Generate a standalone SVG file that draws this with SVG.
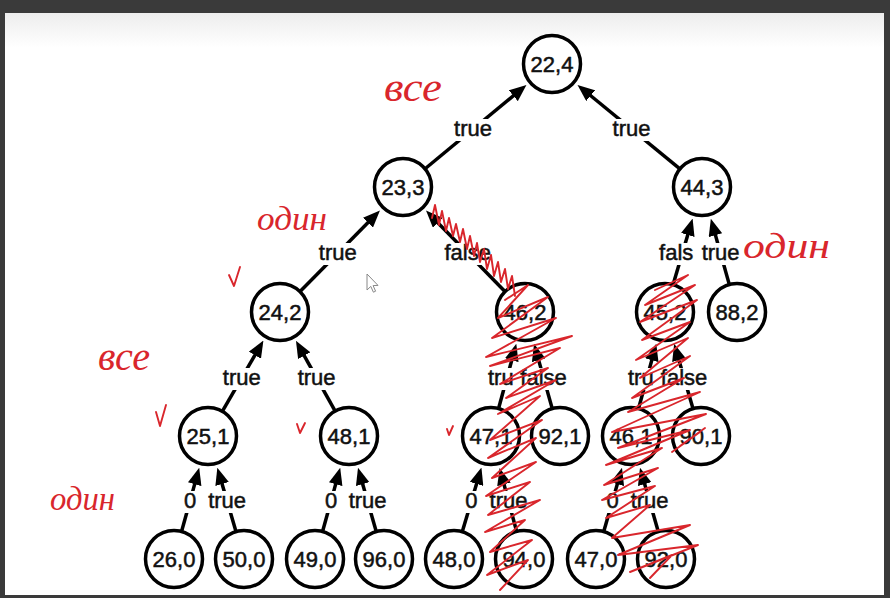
<svg xmlns="http://www.w3.org/2000/svg" width="890" height="598" viewBox="0 0 890 598">
<style>
.node circle{fill:#fff;stroke:#000;stroke-width:3.5}
.node text,.lbl text{font-family:"Liberation Sans",Arial,sans-serif;font-size:22px;fill:#111;stroke:#111;stroke-width:0.5;text-anchor:middle}
.lbl text.st{text-anchor:start}
.edge{stroke:#000;stroke-width:3.5;fill:none;marker-end:url(#ah)}
.lbl rect{fill:#fff}
.hand{font-family:"Liberation Serif","DejaVu Serif",serif;font-style:italic;fill:#d9262c}
.scr{fill:none;stroke:#d9262c;stroke-width:1.9;stroke-linejoin:round;stroke-linecap:round}
</style>
<defs>
<marker id="ah" markerUnits="userSpaceOnUse" markerWidth="17" markerHeight="14" viewBox="0 0 17 14" refX="5" refY="7" orient="auto">
<path d="M0,0 L17,7 L0,14 z" fill="#000"/>
</marker>
<linearGradient id="pg" x1="0" y1="0" x2="0" y2="1">
<stop offset="0" stop-color="#ededed"/>
<stop offset="1" stop-color="#ffffff"/>
</linearGradient>
</defs>
<rect x="0" y="0" width="890" height="598" fill="#fff"/>
<rect x="0" y="13" width="890" height="35" fill="url(#pg)"/>

<g id="connectors">
<line class="edge" x1="425.4" y1="168.5" x2="517.2" y2="92.6"/>
<line class="edge" x1="679.6" y1="168.6" x2="586.8" y2="92.5"/>
<line class="edge" x1="300.3" y1="291.3" x2="371.5" y2="219.1"/>
<line class="edge" x1="504.7" y1="291.2" x2="434.4" y2="219.2"/>
<line class="edge" x1="673.2" y1="284.2" x2="689.2" y2="230.1"/>
<line class="edge" x1="729.2" y1="284.1" x2="714.1" y2="230.4"/>
<line class="edge" x1="222.6" y1="410.9" x2="257.4" y2="350.9"/>
<line class="edge" x1="334.9" y1="410.7" x2="301.8" y2="351.3"/>
<line class="edge" x1="498.7" y1="408.0" x2="513.1" y2="355.4"/>
<line class="edge" x1="552.1" y1="408.1" x2="537.3" y2="355.4"/>
<line class="edge" x1="638.7" y1="408.0" x2="653.1" y2="355.4"/>
<line class="edge" x1="692.9" y1="408.2" x2="677.5" y2="355.2"/>
<line class="edge" x1="181.7" y1="531.0" x2="196.0" y2="479.4"/>
<line class="edge" x1="235.9" y1="531.2" x2="220.7" y2="479.2"/>
<line class="edge" x1="322.7" y1="531.0" x2="337.0" y2="479.4"/>
<line class="edge" x1="376.1" y1="531.1" x2="361.3" y2="479.3"/>
<line class="edge" x1="462.4" y1="531.2" x2="478.0" y2="479.1"/>
<line class="edge" x1="516.5" y1="531.0" x2="502.7" y2="479.5"/>
<line class="edge" x1="603.9" y1="531.1" x2="618.7" y2="479.3"/>
<line class="edge" x1="658.1" y1="531.1" x2="643.3" y2="479.3"/>

<g class="lbl"><rect x="450" y="119" width="46" height="22"/><text x="473" y="136">true</text></g>
<g class="lbl"><rect x="608.5" y="119" width="46" height="22"/><text x="631.5" y="136">true</text></g>
<g class="lbl"><rect x="314.8" y="243" width="46" height="22"/><text x="337.8" y="260">true</text></g>
<g class="lbl"><rect x="440.5" y="243" width="54.5" height="22"/><text x="467.7" y="260">false</text></g>
<g class="lbl"><rect x="655.2" y="243" width="42" height="22"/><text class="st" x="659.1" y="260">fals</text></g>
<g class="lbl"><rect x="698.6" y="243" width="45" height="22"/><text x="720.6" y="260">true</text></g>
<g class="lbl"><rect x="218.8" y="368" width="46" height="22"/><text x="241.8" y="385">true</text></g>
<g class="lbl"><rect x="293.6" y="368" width="46" height="22"/><text x="316.6" y="385">true</text></g>
<g class="lbl"><rect x="484" y="368" width="32" height="22"/><text class="st" x="488" y="385">tru</text></g>
<g class="lbl"><rect x="517.4" y="368" width="53.5" height="22"/><text x="543.6" y="385">false</text></g>
<g class="lbl"><rect x="624" y="368" width="32" height="22"/><text class="st" x="628" y="385">tru</text></g>
<g class="lbl"><rect x="657.9" y="368" width="53.5" height="22"/><text x="684.1" y="385">false</text></g>
<g class="lbl"><rect x="180" y="491" width="20" height="22"/><text x="190" y="508">0</text></g>
<g class="lbl"><rect x="204.1" y="491" width="46" height="22"/><text x="227.1" y="508">true</text></g>
<g class="lbl"><rect x="321" y="491" width="20" height="22"/><text x="331" y="508">0</text></g>
<g class="lbl"><rect x="344.6" y="491" width="46" height="22"/><text x="367.6" y="508">true</text></g>
<g class="lbl"><rect x="461.4" y="491" width="20" height="22"/><text x="471.4" y="508">0</text></g>
<g class="lbl"><rect x="485.5" y="491" width="46" height="22"/><text x="508.5" y="508">true</text></g>
<g class="lbl"><rect x="602.5" y="491" width="20" height="22"/><text x="612.5" y="508">0</text></g>
<g class="lbl"><rect x="626.6" y="491" width="46" height="22"/><text x="649.6" y="508">true</text></g>
</g>

<g id="n22_4" class="node"><circle cx="552" cy="64" r="28.5"/><text x="552" y="72">22,4</text></g>
<g id="n23_3" class="node"><circle cx="403" cy="187" r="28.5"/><text x="403" y="195">23,3</text></g>
<g id="n44_3" class="node"><circle cx="702" cy="187" r="28.5"/><text x="702" y="195">44,3</text></g>
<g id="n24_2" class="node"><circle cx="280" cy="312" r="28.5"/><text x="280" y="320">24,2</text></g>
<g id="n46_2" class="node"><circle cx="525" cy="312" r="28.5"/><text x="525" y="320">46,2</text></g>
<g id="n45_2" class="node"><circle cx="665" cy="312" r="28.5"/><text x="665" y="320">45,2</text></g>
<g id="n88_2" class="node"><circle cx="737" cy="312" r="28.5"/><text x="737" y="320">88,2</text></g>
<g id="n25_1" class="node"><circle cx="208" cy="436" r="28.5"/><text x="208" y="444">25,1</text></g>
<g id="n48_1" class="node"><circle cx="349" cy="436" r="28.5"/><text x="349" y="444">48,1</text></g>
<g id="n47_1" class="node"><circle cx="491" cy="436" r="28.5"/><text x="491" y="444">47,1</text></g>
<g id="n92_1" class="node"><circle cx="560" cy="436" r="28.5"/><text x="560" y="444">92,1</text></g>
<g id="n46_1" class="node"><circle cx="631" cy="436" r="28.5"/><text x="631" y="444">46,1</text></g>
<g id="n90_1" class="node"><circle cx="701" cy="436" r="28.5"/><text x="701" y="444">90,1</text></g>
<g id="n26_0" class="node"><circle cx="174" cy="559" r="28.5"/><text x="174" y="567">26,0</text></g>
<g id="n50_0" class="node"><circle cx="244" cy="559" r="28.5"/><text x="244" y="567">50,0</text></g>
<g id="n49_0" class="node"><circle cx="315" cy="559" r="28.5"/><text x="315" y="567">49,0</text></g>
<g id="n96_0" class="node"><circle cx="384" cy="559" r="28.5"/><text x="384" y="567">96,0</text></g>
<g id="n48_0" class="node"><circle cx="454" cy="559" r="28.5"/><text x="454" y="567">48,0</text></g>
<g id="n94_0" class="node"><circle cx="524" cy="559" r="28.5"/><text x="524" y="567">94,0</text></g>
<g id="n47_0" class="node"><circle cx="596" cy="559" r="28.5"/><text x="596" y="567">47,0</text></g>
<g id="n92_0" class="node"><circle cx="666" cy="559" r="28.5"/><text x="666" y="567">92,0</text></g>

<g id="annotations">
<text class="hand" x="384" y="101" font-size="40" textLength="58" lengthAdjust="spacingAndGlyphs">все</text>
<text class="hand" x="257" y="230" font-size="34" textLength="70" lengthAdjust="spacingAndGlyphs">один</text>
<text class="hand" x="98" y="370" font-size="40" textLength="52" lengthAdjust="spacingAndGlyphs">все</text>
<text class="hand" x="50" y="510" font-size="34" textLength="65" lengthAdjust="spacingAndGlyphs">один</text>
<text class="hand" x="743" y="258" font-size="36" textLength="87" lengthAdjust="spacingAndGlyphs">один</text>
<path class="scr" d="M229,275 L234,286 L240,267"/>
<path class="scr" d="M156,412 L160,426 L166,405"/>
<path class="scr" d="M297,424 L300,433 L305,423"/>
<path class="scr" d="M447,429 L449,435 L453,426"/>
<polyline class="scr" points="432,218 435,205 439,225 442,211 446,231 449,218 453,236 456,224 460,242 463,229 467,249 470,236 474,256 477,243 480,262 484,249 487,269 491,255 494,276 498,262 501,282 505,269 508,289 512,276 515,296"/>
<polyline class="scr" points="505,300 528,285 498,318 548,297 492,338 556,318 486,357 572,336 490,366 560,348 500,384 548,368 506,398 556,380 498,414 540,396 490,440 542,420 488,458 536,438 492,478 536,462 486,496 530,482 488,515 540,500 485,532 525,520 490,552 532,540 487,575 528,560 500,590"/>
<polyline class="scr" points="655,290 688,275 645,305 695,285 640,322 697,300 642,340 690,322 636,360 688,338 640,378 690,356 632,398 684,378 628,412 700,392 612,432 706,414 618,448 690,430 606,465 662,448 604,485 658,468 602,500 655,486 606,518 650,505 612,538 690,525 618,555 698,545 630,572 672,555 650,578"/>
<polyline class="scr" points="672,452 700,432 680,446 705,428"/>
</g>

<polygon points="367,274 367,290 370.8,286.4 373.4,292.2 375.6,291.2 373.1,285.6 378,285.4" fill="#fff" stroke="#888" stroke-width="1"/>

<rect x="0" y="0" width="890" height="13" fill="#3a3a3a"/>
<rect x="0" y="0" width="5" height="598" fill="#3a3a3a"/>
<rect x="884" y="0" width="6" height="598" fill="#3a3a3a"/>
<rect x="0" y="595" width="890" height="3" fill="#3a3a3a"/>
</svg>
